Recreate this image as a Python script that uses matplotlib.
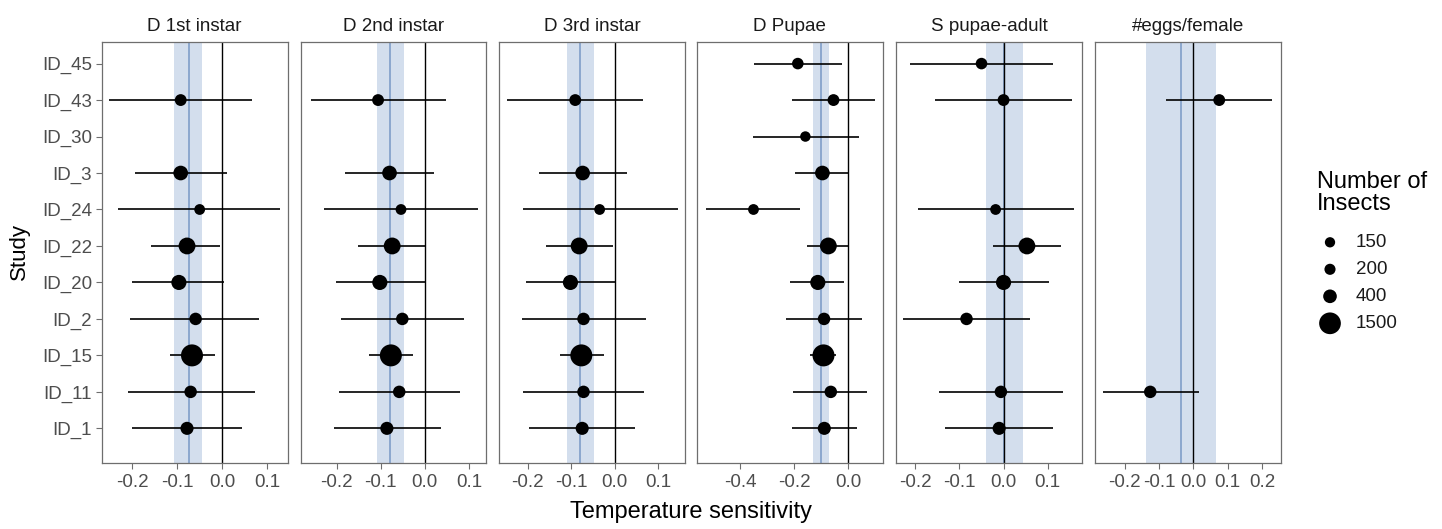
import numpy as np
import matplotlib
matplotlib.use("Agg")
import matplotlib.pyplot as plt

plt.rcParams['font.family'] = ['Liberation Sans', 'DejaVu Sans']

# studies, top to bottom
studies = ["ID_45", "ID_43", "ID_30", "ID_3", "ID_24", "ID_22",
           "ID_20", "ID_2", "ID_15", "ID_11", "ID_1"]
# number of insects per study (point size)
n_insects = [230, 250, 160, 500, 180, 750, 550, 300, 1550, 300, 350]

nan = np.nan
panel_titles = ["D 1st instar", "D 2nd instar", "D 3rd instar",
                "D Pupae", "S pupae-adult", "#eggs/female"]

est_1st = [nan, -0.092, nan, -0.092, -0.050, -0.078, -0.096, -0.059, -0.067, -0.070, -0.078]
lo_1st = [nan, -0.250, nan, -0.193, -0.230, -0.157, -0.199, -0.204, -0.116, -0.209, -0.200]
hi_1st = [nan, 0.067, nan, 0.011, 0.128, -0.004, 0.005, 0.082, -0.017, 0.072, 0.043]

est_2nd = [nan, -0.106, nan, -0.080, -0.054, -0.074, -0.102, -0.051, -0.077, -0.058, -0.086]
lo_2nd = [nan, -0.259, nan, -0.180, -0.229, -0.152, -0.201, -0.191, -0.126, -0.195, -0.205]
hi_2nd = [nan, 0.047, nan, 0.020, 0.120, 0.000, 0.000, 0.089, -0.027, 0.079, 0.036]

est_3rd = [nan, -0.091, nan, -0.074, -0.035, -0.082, -0.102, -0.072, -0.077, -0.072, -0.075]
lo_3rd = [nan, -0.248, nan, -0.175, -0.212, -0.159, -0.204, -0.214, -0.125, -0.212, -0.198]
hi_3rd = [nan, 0.065, nan, 0.027, 0.144, -0.005, 0.000, 0.071, -0.025, 0.067, 0.046]

est_pup = [-0.187, -0.055, -0.159, -0.096, -0.351, -0.074, -0.113, -0.090, -0.092, -0.065, -0.089]
lo_pup = [-0.348, -0.209, -0.353, -0.197, -0.527, -0.154, -0.215, -0.230, -0.142, -0.206, -0.209]
hi_pup = [-0.025, 0.098, 0.039, 0.000, -0.178, 0.000, -0.016, 0.050, -0.045, 0.070, 0.031]

est_spa = [-0.050, 0.000, nan, nan, -0.018, 0.053, 0.000, -0.084, nan, -0.006, -0.010]
lo_spa = [-0.212, -0.156, nan, nan, -0.195, -0.023, -0.102, -0.227, nan, -0.147, -0.132]
hi_spa = [0.112, 0.156, nan, nan, 0.160, 0.130, 0.103, 0.060, nan, 0.134, 0.113]

est_egg = [nan, 0.075, nan, nan, nan, nan, nan, nan, nan, -0.126, nan]
lo_egg = [nan, -0.081, nan, nan, nan, nan, nan, nan, nan, -0.265, nan]
hi_egg = [nan, 0.230, nan, nan, nan, nan, nan, nan, nan, 0.015, nan]

# pooled estimate and its interval per panel
pooled_est = [-0.074, -0.078, -0.079, -0.102, 0.002, -0.037]
pooled_lo = [-0.107, -0.108, -0.110, -0.129, -0.040, -0.139]
pooled_hi = [-0.044, -0.047, -0.047, -0.070, 0.044, 0.066]

xlims = [(-0.267, 0.145), (-0.282, 0.140), (-0.266, 0.161),
         (-0.561, 0.127), (-0.244, 0.178), (-0.287, 0.255)]
xticks = [[-0.2, -0.1, 0.0, 0.1], [-0.2, -0.1, 0.0, 0.1], [-0.2, -0.1, 0.0, 0.1],
          [-0.4, -0.2, 0.0], [-0.2, -0.1, 0.0, 0.1], [-0.2, -0.1, 0.0, 0.1, 0.2]]

legend_breaks = [150, 200, 400, 1500]

panels = [(est_1st, lo_1st, hi_1st), (est_2nd, lo_2nd, hi_2nd), (est_3rd, lo_3rd, hi_3rd),
          (est_pup, lo_pup, hi_pup), (est_spa, lo_spa, hi_spa), (est_egg, lo_egg, hi_egg)]

W, H = 1442, 529
fig = plt.figure(figsize=(W / 100, H / 100), dpi=100)


def marker_s(n):
    # diameter in px grows with sqrt(n), like ggplot's area scale
    d_px = 5.02 + 0.431 * np.sqrt(np.asarray(n, dtype=float))
    return (d_px * 0.72) ** 2


lefts = [101.7, 300.5, 499.0, 696.7, 896.0, 1095.0]
pw = 186.0
top_px, bot_px = 41.7, 463.0
ypos = np.arange(len(studies))[::-1]
grey_txt = "#4d4d4d"
border = "#6e6e6e"

for i, (est, lo, hi) in enumerate(panels):
    ax = fig.add_axes([lefts[i] / W, (H - bot_px) / H, pw / W, (bot_px - top_px) / H])
    est = np.array(est)
    lo = np.array(lo)
    hi = np.array(hi)
    ax.axvspan(pooled_lo[i], pooled_hi[i], color="#d3deed", zorder=0, lw=0)
    ax.axvline(pooled_est[i], color="#86a3cb", lw=1.3, zorder=1)
    ax.axvline(0, color="black", lw=1.0, zorder=1.5)
    ok = ~np.isnan(est)
    ax.hlines(ypos[ok], lo[ok], hi[ok], color="black", lw=1.2, zorder=2)
    ax.scatter(est[ok], ypos[ok], s=marker_s(np.array(n_insects)[ok]),
               color="black", zorder=3, lw=0)
    ax.set_xlim(*xlims[i])
    ax.set_ylim(-0.95, 10.6)
    ax.set_xticks(xticks[i])
    ax.set_xticklabels(["%.1f" % v for v in xticks[i]])
    ax.tick_params(axis="x", length=4, width=0.8, color=border,
                   labelsize=13.5, labelcolor=grey_txt, pad=4)
    if i == 0:
        ax.set_yticks(ypos)
        ax.set_yticklabels(studies)
        ax.tick_params(axis="y", length=4, width=0.8, color=border,
                       labelsize=13.5, labelcolor=grey_txt, pad=3)
    else:
        ax.set_yticks([])
    for sp in ax.spines.values():
        sp.set_color(border)
        sp.set_linewidth(0.9)
    ax.set_title(panel_titles[i], fontsize=13.5, color="#1a1a1a", pad=8)

fig.text((lefts[0] + lefts[-1] + pw) / 2 / W, 1 - 512 / H, "Temperature sensitivity",
         ha="center", va="center", fontsize=17)
fig.text(19 / W, 1 - 252 / H, "Study", rotation=90, ha="center", va="center", fontsize=16)

# legend drawn in its own axes, pixel coordinates
lax = fig.add_axes([1300 / W, (H - 340) / H, 142 / W, 180 / H])
lax.set_xlim(0, 142)
lax.set_ylim(340, 160)
lax.axis("off")
lax.text(17, 171, "Number of\nInsects", ha="left", va="top", fontsize=17, linespacing=1.0)
ly = 242.3 + 27 * np.arange(len(legend_breaks))
lax.scatter(np.full(len(legend_breaks), 30), ly, s=marker_s(legend_breaks), color="black", lw=0)
for yv, b in zip(ly, legend_breaks):
    lax.text(56, yv, str(b), ha="left", va="center", fontsize=13.5, color="#1a1a1a")

fig.savefig("out.png", dpi=100)
